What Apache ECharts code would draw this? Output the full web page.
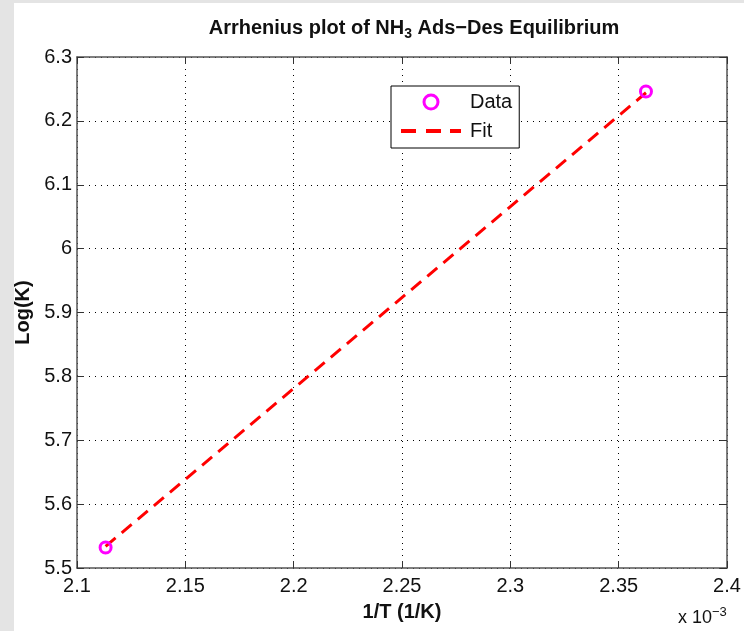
<!DOCTYPE html>
<html lang="en">
  <head>
    <meta charset="UTF-8" />
    <title>Arrhenius plot</title>
    <style>
      html, body { margin: 0; padding: 0; background: #e4e4e4; }
      #main { width: 744px; height: 631px; }
    </style>
  </head>
  <body>
    <div id="main"></div>
    <script src="https://cdn.jsdelivr.net/npm/echarts@6/dist/echarts.min.js"></script>
    <script>
      // data (x in units of 1e-3 1/K)
      var dataX = [2.1132, 2.3626];
      var dataY = [5.532, 6.246];
      var fitX = [2.1132, 2.3626];
      var fitY = [5.534, 6.244];
      var xTicks = [2.1, 2.15, 2.2, 2.25, 2.3, 2.35, 2.4];
      var yTicks = [5.5, 5.6, 5.7, 5.8, 5.9, 6, 6.1, 6.2, 6.3];

      var font = "Liberation Sans, Arial, sans-serif";
      var myChart = echarts.init(document.getElementById("main"));

      var gridDots = { show: true, lineStyle: { color: "#000", width: 1, type: [1, 5] } };
      var axisBox = { show: true, lineStyle: { color: "#555", width: 1.5 } };
      var tickIn = { show: true, inside: true, length: 7, lineStyle: { color: "#333", width: 1 } };
      // dashed legend sample for the fit line (60 x 14 box)
      var fitIcon =
        "path://M0,0h0.1v0.1h-0.1z M0,13.9h0.1v0.1h-0.1z M0,5h15v4h-15z M25,5h15v4h-15z M49,5h11v4h-11z";

      var option = {
        backgroundColor: "transparent",
        animation: false,
        graphic: [
          {
            type: "rect",
            z: -10,
            shape: { x: 14, y: 3, width: 730, height: 628 },
            style: { fill: "#fff" },
          },
          {
            type: "text",
            left: 678,
            top: 606,
            style: {
              text: "x 10{sup|−3}",
              font: "18px " + font,
              fill: "#111",
              rich: {
                sup: { fontSize: 13, fontFamily: font, padding: [0, 0, 12, 0], fill: "#111" },
              },
            },
          },
        ],
        title: {
          text: "Arrhenius plot of NH{sub|3} Ads−Des Equilibrium",
          left: 409,
          textAlign: "center",
          top: 10,
          textStyle: {
            fontFamily: font,
            fontSize: 20,
            fontWeight: "bold",
            color: "#111",
            rich: {
              sub: { fontFamily: font, fontSize: 14, fontWeight: "bold", color: "#111", padding: [12, 0, 0, 0] },
            },
          },
        },
        legend: {
          orient: "vertical",
          left: 391,
          top: 86,
          padding: [6, 7, 7, 10],
          itemWidth: 60,
          itemHeight: 14,
          itemGap: 9,
          backgroundColor: "#fff",
          borderColor: "#000",
          borderWidth: 1,
          textStyle: { fontFamily: font, fontSize: 20, color: "#111", padding: [0, 0, 0, 4] },
          data: [
            { name: "Data", icon: "circle", itemStyle: { color: "rgba(0,0,0,0)", borderColor: "#ff00ff", borderWidth: 3 } },
            { name: "Fit", icon: fitIcon },
          ],
        },
        grid: { left: 77, right: 17, top: 57, bottom: 63 },
        xAxis: [
          {
            type: "value",
            min: xTicks[0],
            max: xTicks[xTicks.length - 1],
            interval: 0.05,
            name: "1/T (1/K)",
            nameLocation: "middle",
            nameGap: 34,
            nameTextStyle: { fontFamily: font, fontSize: 20, fontWeight: "bold", color: "#111" },
            axisLine: axisBox,
            axisTick: tickIn,
            splitLine: gridDots,
            axisLabel: {
              fontFamily: font,
              fontSize: 20,
              color: "#111",
              margin: 8,
              formatter: function (v) {
                return xTicks.indexOf(+v.toFixed(2)) >= 0 ? String(+v.toFixed(2)) : "";
              },
            },
          },
          {
            type: "value",
            position: "top",
            min: xTicks[0],
            max: xTicks[xTicks.length - 1],
            interval: 0.05,
            axisLine: axisBox,
            axisTick: tickIn,
            axisLabel: { show: false },
            splitLine: { show: false },
          },
        ],
        yAxis: [
          {
            type: "value",
            min: yTicks[0],
            max: yTicks[yTicks.length - 1],
            interval: 0.1,
            name: "Log(K)",
            nameLocation: "middle",
            nameGap: 42,
            nameTextStyle: { fontFamily: font, fontSize: 20, fontWeight: "bold", color: "#111" },
            axisLine: axisBox,
            axisTick: tickIn,
            splitLine: gridDots,
            axisLabel: {
              fontFamily: font,
              fontSize: 20,
              color: "#111",
              margin: 5,
              formatter: function (v) {
                return String(+v.toFixed(1));
              },
            },
          },
          {
            type: "value",
            position: "right",
            min: yTicks[0],
            max: yTicks[yTicks.length - 1],
            interval: 0.1,
            axisLine: axisBox,
            axisTick: tickIn,
            axisLabel: { show: false },
            splitLine: { show: false },
          },
        ],
        series: [
          {
            name: "Fit",
            type: "line",
            symbol: "none",
            z: 3,
            lineStyle: { color: "#ff0000", width: 3, type: [13, 8] },
            itemStyle: { color: "#ff0000" },
            data: fitX.map(function (x, i) { return [x, fitY[i]]; }),
          },
          {
            name: "Data",
            type: "scatter",
            symbol: "circle",
            symbolSize: 11,
            z: 4,
            itemStyle: { color: "rgba(0,0,0,0)", borderColor: "#ff00ff", borderWidth: 3, opacity: 1 },
            data: dataX.map(function (x, i) { return [x, dataY[i]]; }),
          },
        ],
      };

      myChart.setOption(option);
    </script>
  </body>
</html>
